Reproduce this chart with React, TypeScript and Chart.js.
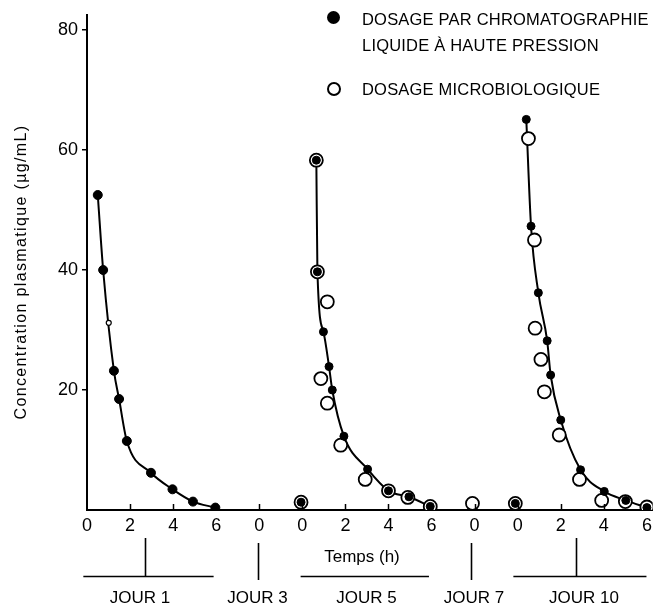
import React, { useEffect, useRef } from "react";
import { Chart, registerables } from "chart.js";

Chart.register(...registerables);

// ---------- axis ticks ----------
const xTickValues = [0, 2, 4, 6, 8, 10, 12, 14, 16, 18, 20, 22, 24, 26];
const xTickLabels = ["0", "2", "4", "6", "0", "0", "2", "4", "6", "0", "0", "2", "4", "6"];
const yTickValues = [20, 40, 60, 80];

// ---------- HPLC assay (filled dots) ----------
const hplcDay1X = [0.5, 0.75, 1.25, 1.49, 1.85, 2.97, 3.97, 4.92, 5.96];
const hplcDay1Y = [52.5, 40, 23.2, 18.5, 11.5, 6.2, 3.45, 1.4, 0.4];
const hplcDay5X = [9.94, 10.65, 10.7, 10.98, 11.24, 11.39, 11.93, 13.03, 14.0, 14.95, 15.94];
const hplcDay5Y = [1.3, 58.3, 39.7, 29.7, 23.9, 20.0, 12.3, 6.8, 3.2, 2.2, 0.6];
const hplcDay10X = [19.89, 20.4, 20.62, 20.96, 21.37, 21.53, 22.0, 22.92, 24.02, 25.02, 26.0];
const hplcDay10Y = [1.1, 65.1, 47.3, 36.2, 28.2, 22.5, 15.0, 6.7, 3.1, 1.6, 0.4];

// ---------- microbiological assay (open circles) ----------
const microDay1X = [1.01];
const microDay1Y = [31.2];
const microDay5X = [9.94, 10.65, 10.7, 11.16, 10.86, 11.16, 11.78, 12.92, 14.0, 14.9, 15.94];
const microDay5Y = [1.3, 58.3, 39.7, 34.7, 21.9, 17.8, 10.8, 5.1, 3.2, 2.1, 0.6];
const microDay7X = [17.9];
const microDay7Y = [1.1];
const microDay10X = [19.89, 20.5, 20.78, 20.81, 21.08, 21.24, 21.93, 22.87, 23.9, 25.0, 26.0];
const microDay10Y = [1.1, 61.9, 45, 30.3, 25.1, 19.7, 12.5, 5.1, 1.6, 1.4, 0.5];

// ---------- fitted curves (vertices) ----------
const curveDay1X = hplcDay1X;
const curveDay1Y = hplcDay1Y;
const curveDay5X = hplcDay5X.slice(1);
const curveDay5Y = hplcDay5Y.slice(1);
const curveDay10X = hplcDay10X.slice(1);
const curveDay10Y = hplcDay10Y.slice(1);

// ---------- day brackets under the axis (hours on the x scale) ----------
const bracketStarts = [-0.17, NaN, 9.92, NaN, 19.8];
const bracketEnds = [5.88, NaN, 15.88, NaN, 25.98];
const bracketMarks = [2.71, 7.95, NaN, 17.85, 22.7];
const dayNames = ["JOUR 1", "JOUR 3", "JOUR 5", "JOUR 7", "JOUR 10"];

const pts = (xs: number[], ys: number[]) => xs.map((x, i) => ({ x, y: ys[i] }));

const FONT = "'Liberation Sans', Arial, Helvetica, sans-serif";

const decorPlugin = {
  id: "decor",
  afterDraw(chart: any) {
    const ctx = chart.ctx;
    const xs = chart.scales.x;
    const bottom = chart.chartArea.bottom;
    ctx.save();
    ctx.strokeStyle = "#000";
    ctx.lineWidth = 1.5;
    // inward x tick marks
    xTickValues.forEach((v) => {
      if (v === 0) return;
      const px = Math.round(xs.getPixelForValue(v)) + 0.5;
      ctx.beginPath();
      ctx.moveTo(px, bottom);
      ctx.lineTo(px, bottom - 6);
      ctx.stroke();
    });
    // day brackets
    const hy = 576.5;
    for (let i = 0; i < dayNames.length; i++) {
      const s = bracketStarts[i];
      const e = bracketEnds[i];
      const m = bracketMarks[i];
      if (!isNaN(s) && !isNaN(e)) {
        ctx.lineWidth = 1.6;
        ctx.beginPath();
        ctx.moveTo(xs.getPixelForValue(s), hy);
        ctx.lineTo(xs.getPixelForValue(e), hy);
        ctx.stroke();
      }
      if (!isNaN(m)) {
        const px = Math.round(xs.getPixelForValue(m)) + 0.5;
        const top = !isNaN(s) ? 538 : 543;
        const bot = !isNaN(s) ? hy : 580;
        ctx.lineWidth = 1.6;
        ctx.beginPath();
        ctx.moveTo(px, top);
        ctx.lineTo(px, bot);
        ctx.stroke();
      }
    }
    ctx.restore();
  },
};

export default function App() {
  const ref = useRef<HTMLCanvasElement | null>(null);

  useEffect(() => {
    if (!ref.current) return;
    const filled = {
      pointRadius: 4,
      pointHoverRadius: 4,
      pointBackgroundColor: "#000",
      pointBorderColor: "#000",
      pointBorderWidth: 1,
      showLine: false,
      order: 0,
    };
    const open = {
      pointRadius: 6.5,
      pointHoverRadius: 6.5,
      pointBackgroundColor: "#fff",
      pointBorderColor: "#000",
      pointBorderWidth: 1.8,
      showLine: false,
      order: 1,
    };
    const curve = {
      showLine: true,
      pointRadius: 0,
      borderColor: "#000",
      borderWidth: 2,
      cubicInterpolationMode: "monotone" as const,
      fill: false,
      order: 2,
    };
    const chart = new Chart(ref.current, {
      type: "scatter",
      data: {
        datasets: [
          { label: "curve day 1", data: pts(curveDay1X, curveDay1Y), ...curve },
          { label: "curve day 5", data: pts(curveDay5X, curveDay5Y), ...curve },
          { label: "curve day 10", data: pts(curveDay10X, curveDay10Y), ...curve },
          { label: "Dosage microbiologique J1", data: pts(microDay1X, microDay1Y), ...open, pointRadius: 2.5, pointBorderWidth: 1.2 },
          { label: "Dosage microbiologique J5", data: pts(microDay5X, microDay5Y), ...open },
          { label: "Dosage microbiologique J7", data: pts(microDay7X, microDay7Y), ...open },
          { label: "Dosage microbiologique J10", data: pts(microDay10X, microDay10Y), ...open },
          { label: "Dosage HPLC J1", data: pts(hplcDay1X, hplcDay1Y), ...filled, pointRadius: 4.5 },
          { label: "Dosage HPLC J5", data: pts(hplcDay5X, hplcDay5Y), ...filled },
          { label: "Dosage HPLC J10", data: pts(hplcDay10X, hplcDay10Y), ...filled },
        ],
      },
      options: {
        animation: false,
        responsive: false,
        events: [],
        layout: { padding: { left: 0, top: 15, right: 2, bottom: 0 } },
        plugins: { legend: { display: false }, tooltip: { enabled: false }, title: { display: false } },
        scales: {
          x: {
            type: "linear",
            min: 0,
            max: 26.27,
            afterFit: (s: any) => {
              s.height = 101;
            },
            afterBuildTicks: (s: any) => {
              s.ticks = xTickValues.map((v) => ({ value: v }));
            },
            ticks: {
              autoSkip: false,
              maxRotation: 0,
              padding: 5,
              color: "#000",
              font: { family: FONT, size: 18 },
              callback: (_v: any, i: number) => xTickLabels[i],
            },
            grid: { drawOnChartArea: false, drawTicks: false },
            border: { color: "#000", width: 2 },
          },
          y: {
            type: "linear",
            min: 0,
            max: 82.5,
            afterFit: (s: any) => {
              s.width = 87;
            },
            afterBuildTicks: (s: any) => {
              s.ticks = yTickValues.map((v) => ({ value: v }));
            },
            ticks: {
              padding: 4,
              color: "#000",
              font: { family: FONT, size: 18 },
            },
            grid: { drawOnChartArea: false, drawTicks: true, tickLength: 5, color: "#000", lineWidth: 1.5 },
            border: { color: "#000", width: 2 },
          },
        },
      },
      plugins: [decorPlugin],
    });
    return () => chart.destroy();
  }, []);

  const txt: React.CSSProperties = {
    position: "absolute",
    fontFamily: FONT,
    color: "#000",
    whiteSpace: "nowrap",
    lineHeight: "20px",
    height: 20,
  };
  const dayCenters = [140, 257.5, 366.5, 474, 584];

  return (
    <div style={{ position: "absolute", left: 0, top: 0, width: 661, height: 611, background: "#fff", overflow: "hidden" }}>
      <canvas ref={ref} width={661} height={611} style={{ position: "absolute", left: 0, top: 0, width: 661, height: 611 }} />
      {/* legend */}
      <div style={{ position: "absolute", left: 327, top: 11, width: 13, height: 13, borderRadius: "50%", background: "#000" }} />
      <div style={{ ...txt, left: 362, top: 9, fontSize: 16.5, letterSpacing: 0.2 }}>DOSAGE PAR CHROMATOGRAPHIE</div>
      <div style={{ ...txt, left: 362, top: 35, fontSize: 16.5, letterSpacing: 0.2 }}>LIQUIDE À HAUTE PRESSION</div>
      <div style={{ position: "absolute", left: 327, top: 82, width: 10, height: 10, borderRadius: "50%", border: "2px solid #000", background: "#fff" }} />
      <div style={{ ...txt, left: 362, top: 79, fontSize: 16.5, letterSpacing: 0.2 }}>DOSAGE MICROBIOLOGIQUE</div>
      {/* y title */}
      <div
        style={{
          ...txt,
          left: 21 - 170,
          top: 272 - 10,
          width: 340,
          textAlign: "center",
          fontSize: 16,
          letterSpacing: 1.35,
          transform: "rotate(-90deg)",
          transformOrigin: "50% 50%",
        }}
      >
        Concentration plasmatique (µg/mL)
      </div>
      {/* x title */}
      <div style={{ ...txt, left: 362 - 60, top: 547, width: 120, textAlign: "center", fontSize: 17 }}>Temps (h)</div>
      {/* day labels */}
      {dayNames.map((d, i) => (
        <div key={d} style={{ ...txt, left: dayCenters[i] - 50, top: 588, width: 100, textAlign: "center", fontSize: 17 }}>
          {d}
        </div>
      ))}
    </div>
  );
}
